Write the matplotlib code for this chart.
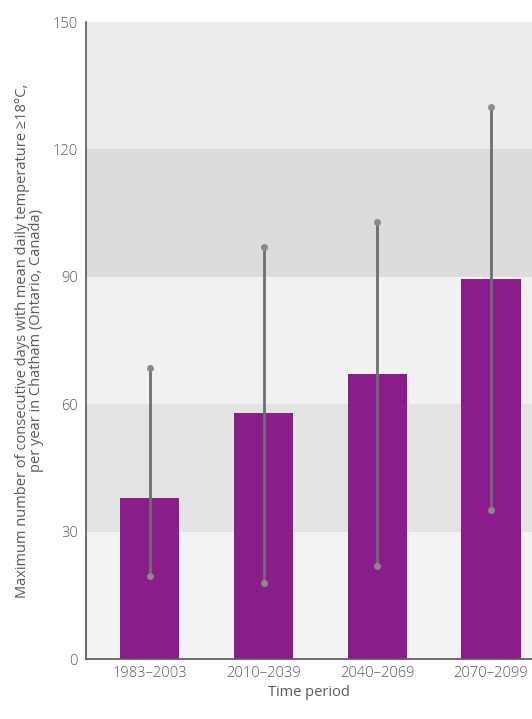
import matplotlib
matplotlib.use("Agg")
import matplotlib.pyplot as plt

# data
periods = ["1983\u20132003", "2010\u20132039", "2040\u20132069", "2070\u20132099"]
mean_days = [38, 58, 67, 89.5]
low_days = [19.5, 18, 22, 35]
high_days = [68.5, 97, 103, 130]

band_edges = [0, 30, 60, 90, 120, 150]
band_colors = ["#f3f3f3", "#e3e3e3", "#f1f1f1", "#dcdcdc", "#ececec"]

plt.rcParams["font.family"] = ["Open Sans", "DejaVu Sans"]
plt.rcParams["font.weight"] = "light"
text_col = "#5a5a5a"

fig = plt.figure(figsize=(5.32, 7.19), dpi=100)
ax = fig.add_axes([0.1617, 0.0834, 0.8383, 0.886])

for lo, hi, c in zip(band_edges[:-1], band_edges[1:], band_colors):
    ax.axhspan(lo, hi, color=c, lw=0, zorder=0)

x = range(len(periods))
ax.bar(x, mean_days, width=0.52, color="#8b1c8c", zorder=2)
for xi, lo, hi in zip(x, low_days, high_days):
    ax.plot([xi, xi], [lo, hi], color="#6e6e6e", lw=2, zorder=3)
    ax.plot([xi, xi], [lo, hi], "o", color="#8a8a8a", ms=5, mec="none", zorder=4)

ax.set_xlim(-0.56, 3.36)
ax.set_ylim(0, 150)
ax.set_yticks([0, 30, 60, 90, 120, 150])
ax.set_xticks(list(x))
ax.set_xticklabels(periods)
ax.tick_params(length=0, labelsize=10.5, colors=text_col, pad=5)
ax.tick_params(axis="y", pad=6)
for s in ["top", "right"]:
    ax.spines[s].set_visible(False)
for s in ["left", "bottom"]:
    ax.spines[s].set_color("#555555")
    ax.spines[s].set_linewidth(1.2)

ax.set_xlabel("Time period", fontsize=10.5, color=text_col, labelpad=3)
ax.set_ylabel("Maximum number of consecutive days with mean daily temperature \u226518\u00b0C,\nper year in Chatham (Ontario, Canada)",
              fontsize=10.5, color=text_col, labelpad=6, linespacing=0.95)

fig.savefig("out.png", dpi=100)
